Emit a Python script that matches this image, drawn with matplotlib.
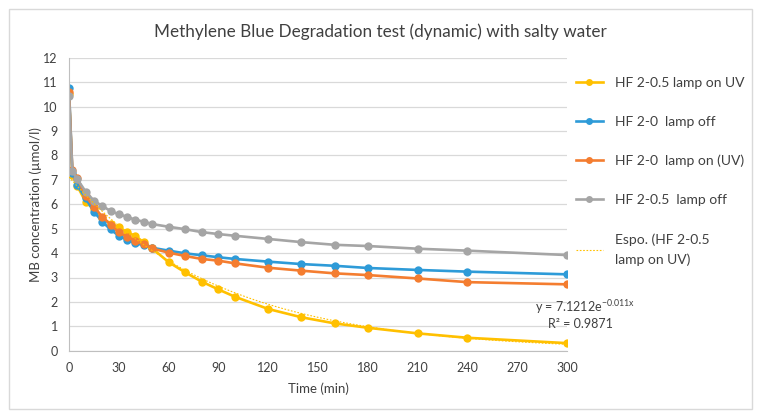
import matplotlib
matplotlib.use("Agg")
import matplotlib.pyplot as plt
import numpy as np
from matplotlib.lines import Line2D
from matplotlib.patches import Rectangle

plt.rcParams['font.family'] = ['Lato', 'DejaVu Sans']
plt.rcParams['mathtext.fontset'] = 'custom'
plt.rcParams['mathtext.rm'] = 'Lato'

time = [0, 2, 5, 10, 15, 20, 25, 30, 35, 40, 45, 50, 60, 70, 80, 90, 100,
        120, 140, 160, 180, 210, 240, 300]

hf05_on = [10.5, 7.2, 6.75, 6.1, 5.8, 5.45, 5.2, 5.05, 4.86, 4.70, 4.44, 4.2,
           3.63, 3.21, 2.83, 2.51, 2.21, 1.71, 1.37, 1.12, 0.94, 0.71, 0.53, 0.31]
hf0_off = [10.78, 7.3, 6.79, 6.24, 5.7, 5.29, 4.97, 4.71, 4.54, 4.40, 4.33, 4.22,
           4.10, 3.99, 3.91, 3.83, 3.76, 3.65, 3.55, 3.48, 3.39, 3.31, 3.24, 3.13]
hf0_on = [10.62, 7.4, 7.07, 6.34, 5.9, 5.49, 5.17, 4.85, 4.67, 4.51, 4.36, 4.19,
          4.02, 3.88, 3.76, 3.69, 3.58, 3.40, 3.28, 3.17, 3.10, 2.96, 2.81, 2.72]
hf05_off = [10.43, 7.38, 7.03, 6.52, 6.15, 5.93, 5.73, 5.59, 5.49, 5.36, 5.29, 5.19,
            5.08, 4.98, 4.86, 4.78, 4.71, 4.58, 4.45, 4.34, 4.29, 4.18, 4.10, 3.92]

fit_a = 7.1212
fit_b = -0.011
fit_r2 = 0.9871

labels = ["HF 2-0.5 lamp on UV", "HF 2-0  lamp off", "HF 2-0  lamp on (UV)",
          "HF 2-0.5  lamp off", "Espo. (HF 2-0.5\nlamp on UV)"]
colors = ["#FFC000", "#2E9BD8", "#F47D30", "#A5A5A5"]

W, H = 761, 419
fig = plt.figure(figsize=(W / 100, H / 100), dpi=100)

# chart border
fig.patches.append(Rectangle((9 / W, 1 - 409 / H), 743 / W, 400 / H,
                             transform=fig.transFigure, fill=False,
                             edgecolor="#D9D9D9", linewidth=1.0))

ax = fig.add_axes([69 / W, 1 - 350.7 / H, (567 - 69) / W, (350.7 - 57.9) / H])

series = [hf05_on, hf0_off, hf0_on, hf05_off]
for vals, c, lab in zip(series, colors, labels[:4]):
    ax.plot(time, vals, color=c, linewidth=1.9, marker="o", markersize=6,
            markeredgewidth=0, label=lab)

tt = np.linspace(0, 300, 301)
ax.plot(tt, fit_a * np.exp(fit_b * tt), color="#FFC000", linewidth=0.8,
        linestyle=(0, (1.5, 1.5)), zorder=5)

ax.set_xlim(0, 300)
ax.set_ylim(0, 12)
ax.set_xticks(np.arange(0, 301, 30))
ax.set_yticks(np.arange(0, 13, 1))
ax.grid(axis="y", color="#D9D9D9", linewidth=0.9)
ax.set_axisbelow(True)
for s in ["top", "right"]:
    ax.spines[s].set_visible(False)
for s in ["left", "bottom"]:
    ax.spines[s].set_color("#BFBFBF")
ax.tick_params(length=0, labelsize=9, colors="#404040", pad=8)
ax.set_xlabel("Time (min)", fontsize=9.5, color="#404040", labelpad=6)
ax.set_ylabel("MB concentration (µmol/l)", fontsize=9.5, color="#404040", labelpad=1)

fig.text(380 / W, 1 - 32 / H, "Methylene Blue Degradation test (dynamic) with salty water",
         ha="center", va="center", fontsize=12.3, color="#404040")

leg_h = [Line2D([], [], color=c, linewidth=1.9, marker="o", markersize=5,
                markeredgewidth=0) for c in colors]
leg_h.append(Line2D([], [], color="#FFC000", linewidth=0.8, linestyle=(0, (1.5, 1.5))))
leg = fig.legend(leg_h, labels, loc="upper left", bbox_to_anchor=(563 / W, 1 - 64 / H),
                 frameon=False, fontsize=10, handlelength=2.0, handletextpad=0.85,
                 labelspacing=1.95, labelcolor="#404040")
leg.get_texts()[4].set_linespacing(1.75)

fig.text(535 / W, 1 - 307 / H, r"y = 7.1212e$\mathregular{^{-0.011x}}$",
         ha="left", va="center", fontsize=9, color="#404040")
fig.text(548 / W, 1 - 324 / H, "R² = 0.9871", ha="left", va="center",
         fontsize=9, color="#404040")

fig.savefig("out.png", dpi=100)
